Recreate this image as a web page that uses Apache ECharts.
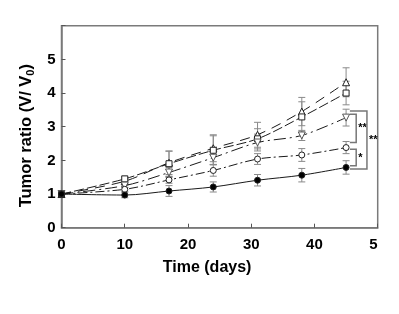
<!DOCTYPE html>
<html>
<head>
<meta charset="utf-8">
<script src="https://cdn.jsdelivr.net/npm/echarts@6/dist/echarts.min.js"></script>
<style>
  html, body { margin: 0; padding: 0; background: #fff; }
  #chart { width: 399px; height: 314px; }
</style>
</head>
<body>
<div id="chart"></div>
<script>
  // time points (days)
  const days = [0, 10, 17, 24, 31, 38, 45];

  // tumor ratio means and error bars, one pair per group
  const filledCircle = [1, 0.97, 1.09, 1.21, 1.41, 1.56, 1.79];
  const filledCircleErr = [0, 0.08, 0.16, 0.15, 0.17, 0.2, 0.2];
  const openCircle = [1, 1.14, 1.42, 1.7, 2.04, 2.16, 2.38];
  const openCircleErr = [0, 0.06, 0.1, 0.17, 0.16, 0.19, 0.18];
  const downTriangle = [1, 1.25, 1.64, 2.08, 2.53, 2.74, 3.27];
  const downTriangleErr = [0, 0.06, 0.15, 0.2, 0.25, 0.15, 0.25];
  const openSquare = [1, 1.45, 1.9, 2.3, 2.64, 3.29, 4.0];
  const openSquareErr = [0, 0.08, 0.37, 0.43, 0.3, 0.45, 0.35];
  const upTriangle = [1, 1.38, 1.93, 2.36, 2.76, 3.45, 4.32];
  const upTriangleErr = [0, 0.1, 0.35, 0.4, 0.37, 0.42, 0.43];

  // significance brackets: [x start, x bar, y top, y bottom, label]
  const brackets = [
    [45.6, 46.6, 3.37, 2.53, '**'],
    [45.6, 46.6, 2.33, 1.84, '*'],
    [45.6, 48.3, 3.47, 1.74, '**'],
  ];

  const yTickLabels = ['0', '1', '2', '3', '4', '5'];

  const pairs = (vals) => days.map((d, i) => [d, vals[i]]);
  const errs = (vals, e) => days.map((d, i) => [d, vals[i] - e[i], vals[i] + e[i]]);

  const lineColor = '#1a1a1a';

  const groups = [
    { name: 'g5', vals: upTriangle, err: upTriangleErr, symbol: 'triangle', fill: '#fff', dash: [10, 7], rotate: 0 },
    { name: 'g4', vals: openSquare, err: openSquareErr, symbol: 'rect', fill: '#fff', dash: [10, 3], rotate: 0 },
    { name: 'g3', vals: downTriangle, err: downTriangleErr, symbol: 'triangle', fill: '#fff', dash: [12, 4, 2, 4], rotate: 180 },
    { name: 'g2', vals: openCircle, err: openCircleErr, symbol: 'circle', fill: '#fff', dash: [9, 3, 2, 3], rotate: 0 },
    { name: 'g1', vals: filledCircle, err: filledCircleErr, symbol: 'circle', fill: '#000', dash: 'solid', rotate: 0 },
  ];

  const errorSeries = groups.map((g) => ({
    type: 'custom',
    name: g.name + '-err',
    data: errs(g.vals, g.err),
    z: 1,
    renderItem: function (params, api) {
      const x = api.value(0);
      const lo = api.coord([x, api.value(1)]);
      const hi = api.coord([x, api.value(2)]);
      const w = 3.5;
      const style = { stroke: '#8a8a8a', lineWidth: 1 };
      return {
        type: 'group',
        children: [
          { type: 'line', shape: { x1: lo[0], y1: lo[1], x2: hi[0], y2: hi[1] }, style: style },
          { type: 'line', shape: { x1: lo[0] - w, y1: lo[1], x2: lo[0] + w, y2: lo[1] }, style: style },
          { type: 'line', shape: { x1: hi[0] - w, y1: hi[1], x2: hi[0] + w, y2: hi[1] }, style: style },
        ],
      };
    },
  }));

  const lineSeries = groups.map((g, i) => ({
    type: 'line',
    name: g.name,
    data: pairs(g.vals),
    smooth: 0.3,
    symbol: g.symbol,
    symbolSize: g.symbol === 'triangle' ? 7 : 6,
    symbolRotate: g.rotate,
    z: 3 + i,
    lineStyle: { color: lineColor, width: 1, type: g.dash },
    itemStyle: { color: g.fill, borderColor: g.symbol === 'triangle' && g.rotate ? '#555' : '#222', borderWidth: 1 },
  }));

  const bracketSeries = {
    type: 'custom',
    name: 'brackets',
    data: brackets,
    z: 10,
    renderItem: function (params, api) {
      const x0 = api.value(0), xb = api.value(1);
      const pTop0 = api.coord([x0, api.value(2)]);
      const pTopB = api.coord([xb, api.value(2)]);
      const pBotB = api.coord([xb, api.value(3)]);
      const pBot0 = api.coord([x0, api.value(3)]);
      const label = brackets[params.dataIndex][4];
      return {
        type: 'group',
        children: [
          {
            type: 'polyline',
            shape: { points: [pTop0, pTopB, pBotB, pBot0] },
            style: { stroke: '#777', lineWidth: 1.5, fill: null },
          },
          {
            type: 'text',
            style: {
              text: label,
              x: pTopB[0] + 2,
              y: (pTopB[1] + pBotB[1]) / 2,
              align: 'left',
              verticalAlign: 'middle',
              fill: '#000',
              font: 'bold 11px "Liberation Sans", Arial, sans-serif',
            },
          },
        ],
      };
    },
  };

  const chart = echarts.init(document.getElementById('chart'));
  chart.setOption({
    animation: false,
    backgroundColor: '#fff',
    grid: {
      left: 61.5,
      right: 21.3,
      top: 25.7,
      bottom: 86.3,
      show: true,
      borderColor: '#7a7a7a',
      borderWidth: 1.5,
    },
    xAxis: {
      type: 'value',
      min: 0,
      max: 50,
      interval: 10,
      name: 'Time (days)',
      nameLocation: 'middle',
      nameGap: 32,
      nameTextStyle: {
        fontFamily: 'Liberation Sans',
        fontWeight: 'bold',
        fontSize: 16,
        color: '#000',
        padding: [0, 25, 0, 0],
      },
      axisLine: { lineStyle: { color: '#7a7a7a', width: 1.5 } },
      axisTick: { inside: true, length: 4, lineStyle: { color: '#555' } },
      splitLine: { show: false },
      axisLabel: {
        margin: 10,
        fontFamily: 'Liberation Sans',
        fontWeight: 'bold',
        fontSize: 15,
        color: '#000',
        alignMaxLabel: 'right',
        formatter: (v) => (v === 50 ? '5' : String(v)),
      },
    },
    yAxis: {
      type: 'value',
      min: 0,
      max: 6,
      interval: 1,
      name: 'Tumor ratio (V/ V{sub|0})',
      nameLocation: 'middle',
      nameGap: 19,
      nameTextStyle: {
        fontFamily: 'Liberation Sans',
        fontWeight: 'bold',
        fontSize: 16.5,
        color: '#000',
        padding: [0, 18, 0, 0],
        rich: {
          sub: { fontFamily: 'Liberation Sans', fontWeight: 'bold', fontSize: 11, color: '#000', verticalAlign: 'bottom', padding: [8, 0, 0, 0] },
        },
      },
      axisLine: { show: true, lineStyle: { color: '#7a7a7a', width: 1.5 } },
      axisTick: { show: true, inside: true, length: 4, lineStyle: { color: '#555' } },
      splitLine: { show: false },
      axisLabel: {
        margin: 6,
        fontFamily: 'Liberation Sans',
        fontWeight: 'bold',
        fontSize: 15,
        color: '#000',
        formatter: (v) => (yTickLabels[v] !== undefined ? yTickLabels[v] : ''),
      },
    },
    series: [...errorSeries, ...lineSeries, bracketSeries],
  });
</script>
</body>
</html>
